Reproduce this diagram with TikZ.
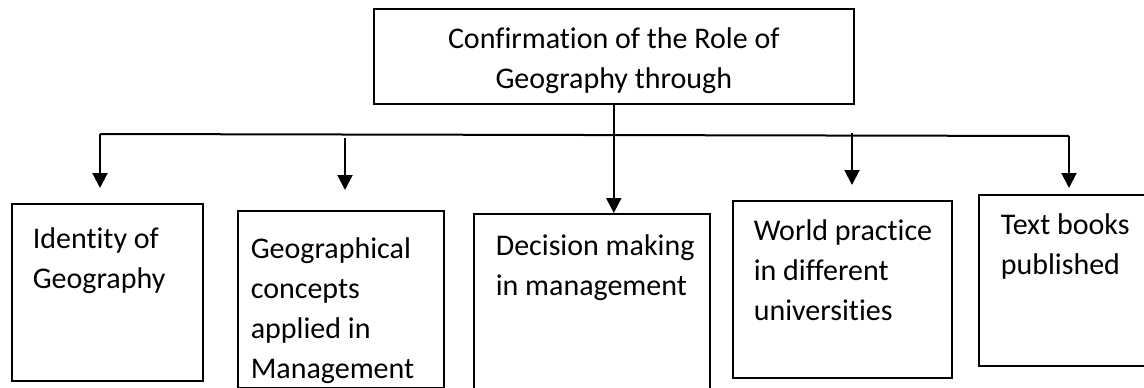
\documentclass[tikz,border=0pt]{standalone}
\usepackage{fontspec}
\setmainfont{Carlito}[Ligatures={NoCommon}]
\usetikzlibrary{arrows.meta}
\newcommand\boxtxt[5]{\parbox[t][#2pt][t]{#1pt}{\raggedright\leftskip=#3pt\rule{0pt}{#4pt}#5}}
\begin{document}
\begin{tikzpicture}[x=1pt,y=-1pt,
  box/.style={draw, line width=1.6pt, anchor=north west, inner sep=0pt, font=\fontsize{30}{40}\selectfont},
  conn/.style={line width=2pt},
  arr/.style={conn, -{Triangle[length=15pt,width=15pt]}}]
\clip (0,0) rectangle (1144,388);
\fill[white] (0,0) rectangle (1144,388);
\node[box] (top) at (373,8) {\parbox[t][95pt][t]{480pt}{\centering\rule{0pt}{40pt}Confirmation of the Role of\\Geography through}};
\node[box] (b1) at (11,203) {\boxtxt{191}{177}{21}{45}{Identity of\\Geography}};
\node[box] (b2) at (237,210) {\boxtxt{206}{177}{13}{48}{Geographical\\concepts\\applied in\\Management}};
\node[box] (b3) at (473,213) {\boxtxt{236}{190}{22}{42}{Decision making\\in management}};
\node[box] (b4) at (732,200) {\boxtxt{219}{177}{21}{40}{World practice\\in different\\universities}};
\node[box] (b5) at (978,194) {\boxtxt{200}{171}{22}{40}{Text books\\published}};
\coordinate (hL) at (100,134);
\coordinate (hR) at (1069,136);
\coordinate (t1) at (100,188);
\coordinate (s2) at (345,138);
\coordinate (t2) at (345,190);
\coordinate (s4) at (852,133);
\coordinate (t4) at (852,185);
\coordinate (t5) at (1069,188);
\draw[conn] (hL) -- (hR);
\draw[arr] (hL) -- (t1);
\draw[arr] (s2) -- (t2);
\draw[arr] (top.south) -- (top.south |- b3.north);
\draw[arr] (s4) -- (t4);
\draw[arr] (hR) -- (t5);
\end{tikzpicture}
\end{document}
